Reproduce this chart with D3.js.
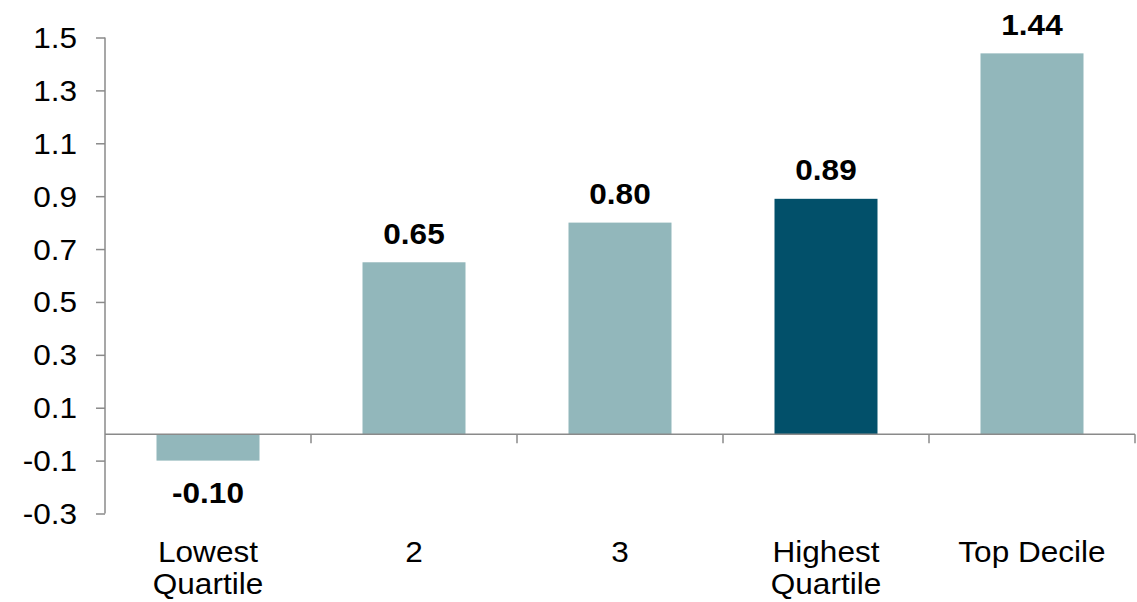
<!DOCTYPE html>
<html>
<head>
<meta charset="utf-8">
<script src="https://cdn.jsdelivr.net/npm/d3@7"></script>
<style>
  body { margin: 0; background: #fff; }
  svg text { font-family: "Liberation Sans", Arial, sans-serif; }
</style>
</head>
<body>
<svg id="chart" width="1137" height="602"></svg>
<script>
const categories = ["Lowest\nQuartile", "2", "3", "Highest\nQuartile", "Top Decile"];
const values = [-0.10, 0.65, 0.80, 0.89, 1.44];
const valueLabels = ["-0.10", "0.65", "0.80", "0.89", "1.44"];
const highlight = [false, false, false, true, false];
const yTicks = [-0.3, -0.1, 0.1, 0.3, 0.5, 0.7, 0.9, 1.1, 1.3, 1.5];

const svg = d3.select("#chart");
const axisColor = "#8a8a8a";
const light = "#92b7bb";
const dark = "#02506a";
const FS = 29.5;
const SX = 1.07;

const x = d3.scaleBand().domain(categories).range([105, 1135]).paddingInner(0.5).paddingOuter(0.25);
const y = d3.scaleLinear().domain([-0.3, 1.5]).range([513.5, 37.5]);

function txt(g, tx, ty, s, anchor, bold) {
  return g.append("text")
    .attr("transform", `translate(${tx},${ty}) scale(${SX},1)`)
    .attr("text-anchor", anchor)
    .attr("font-size", FS)
    .attr("font-weight", bold ? "bold" : "normal")
    .attr("fill", "#000")
    .text(s);
}

// Y axis
const yAxis = svg.append("g").attr("transform", "translate(105,0)")
  .call(d3.axisLeft(y).tickValues(yTicks).tickSize(9).tickFormat(""));
yAxis.select(".domain").attr("stroke", axisColor).attr("stroke-width", 1.5).attr("d", `M0,${y(1.5)}V${y(-0.3)}`);
yAxis.selectAll(".tick line").attr("stroke", axisColor).attr("stroke-width", 1.5);
const yl = svg.append("g");
yTicks.forEach(t => txt(yl, 77, y(t) + 10.5, t.toFixed(1), "end", false));

// Bars
svg.append("g").selectAll("rect").data(values).join("rect")
  .attr("x", (d, i) => x(categories[i]))
  .attr("width", x.bandwidth())
  .attr("y", d => y(Math.max(0, d)))
  .attr("height", d => Math.abs(y(d) - y(0)))
  .attr("fill", (d, i) => highlight[i] ? dark : light);

// X axis (zero line)
const step = x.step();
const bounds = d3.range(categories.length + 1).map(i => x.range()[0] + i * step);
svg.append("line")
  .attr("x1", x.range()[0]).attr("x2", x.range()[1])
  .attr("y1", y(0)).attr("y2", y(0))
  .attr("stroke", axisColor).attr("stroke-width", 1.5);
svg.append("g").selectAll("line").data(bounds.slice(1)).join("line")
  .attr("x1", d => d).attr("x2", d => d)
  .attr("y1", y(0)).attr("y2", y(0) + 9)
  .attr("stroke", axisColor).attr("stroke-width", 1.5);

// Value labels
const vl = svg.append("g");
values.forEach((d, i) => {
  const cx = x(categories[i]) + x.bandwidth() / 2;
  const ty = d >= 0 ? y(d) - 18.5 : y(d) + 42;
  txt(vl, cx, ty, valueLabels[i], "middle", true);
});

// Category labels
const cl = svg.append("g");
categories.forEach(c => {
  const cx = x(c) + x.bandwidth() / 2;
  c.split("\n").forEach((line, j) => txt(cl, cx, 561.5 + j * 32, line, "middle", false));
});
</script>
</body>
</html>
